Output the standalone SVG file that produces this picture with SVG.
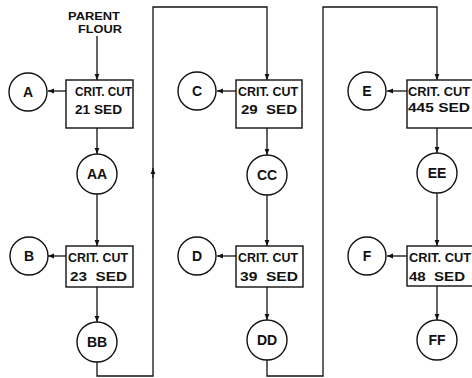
<svg xmlns="http://www.w3.org/2000/svg" width="472" height="378" viewBox="0 0 472 378">
<style>
.n{fill:#fff;stroke:#111;stroke-width:1.4}
.c{fill:none;stroke:#111;stroke-width:1.3}
text{font-family:"Liberation Sans",Arial,sans-serif;font-weight:bold;fill:#111;white-space:pre}
.bt{font-size:13px}
.ct{font-size:14px;text-anchor:middle}
.pt{font-size:11.5px}
</style>
<defs>
<marker id="ah" viewBox="0 0 10 10" refX="10" refY="5" markerWidth="6" markerHeight="6" markerUnits="userSpaceOnUse" orient="auto">
<path d="M0,1 L10,5 L0,9 z" fill="#111"/>
</marker>
</defs>
<rect width="472" height="378" fill="#fff"/>
<g id="connectors">
<path class="c" d="M97,36 V80" marker-end="url(#ah)"/>
<path class="c" d="M66,91 H48" marker-end="url(#ah)"/>
<path class="c" d="M97,128 V154" marker-end="url(#ah)"/>
<path class="c" d="M97,194 V246" marker-end="url(#ah)"/>
<path class="c" d="M66,256 H48" marker-end="url(#ah)"/>
<path class="c" d="M97,287 V322" marker-end="url(#ah)"/>
<path class="c" d="M97,362 V376 H153 V7 H267 V80" marker-end="url(#ah)"/>
<path class="c" d="M153,178 V168" marker-end="url(#ah)"/>
<path class="c" d="M236,91 H217" marker-end="url(#ah)"/>
<path class="c" d="M267,128 V155" marker-end="url(#ah)"/>
<path class="c" d="M267,195 V246" marker-end="url(#ah)"/>
<path class="c" d="M236,256 H217" marker-end="url(#ah)"/>
<path class="c" d="M267,287 V320" marker-end="url(#ah)"/>
<path class="c" d="M267,360 V376 H323 V7 H437 V80" marker-end="url(#ah)"/>
<path class="c" d="M407,91 H387" marker-end="url(#ah)"/>
<path class="c" d="M437,128 V153" marker-end="url(#ah)"/>
<path class="c" d="M437,193 V246" marker-end="url(#ah)"/>
<path class="c" d="M407,256 H387" marker-end="url(#ah)"/>
<path class="c" d="M437,286 V320" marker-end="url(#ah)"/>
</g>
<g id="parent">
<text class="pt" x="68" y="20" textLength="52" lengthAdjust="spacingAndGlyphs">PARENT</text>
<text class="pt" x="78" y="33" textLength="44" lengthAdjust="spacingAndGlyphs">FLOUR</text>
</g>
<g id="box1"><rect class="n" x="66" y="80" width="67" height="48"/>
<text class="bt" x="75" y="96" textLength="57" lengthAdjust="spacingAndGlyphs">CRIT. CUT</text>
<text class="bt" x="75" y="114" textLength="47" lengthAdjust="spacingAndGlyphs">21 SED</text></g>
<g id="A"><circle class="n" cx="28" cy="92" r="19"/><text class="ct" x="28" y="97">A</text></g>
<g id="AA"><circle class="n" cx="97" cy="174" r="20"/><text class="ct" x="97" y="179">AA</text></g>
<g id="box2"><rect class="n" x="66" y="246" width="67" height="41"/>
<text class="bt" x="68" y="262" textLength="60" lengthAdjust="spacingAndGlyphs">CRIT. CUT</text>
<text class="bt" x="70" y="281" textLength="57" lengthAdjust="spacingAndGlyphs">23  SED</text></g>
<g id="B"><circle class="n" cx="29" cy="256" r="19"/><text class="ct" x="29" y="261">B</text></g>
<g id="BB"><circle class="n" cx="97" cy="342" r="20"/><text class="ct" x="97" y="347">BB</text></g>
<g id="box3"><rect class="n" x="236" y="80" width="66" height="48"/>
<text class="bt" x="238" y="96" textLength="60" lengthAdjust="spacingAndGlyphs">CRIT. CUT</text>
<text class="bt" x="241" y="114" textLength="56" lengthAdjust="spacingAndGlyphs">29  SED</text></g>
<g id="C"><circle class="n" cx="197" cy="91" r="19"/><text class="ct" x="197" y="96">C</text></g>
<g id="CC"><circle class="n" cx="267" cy="175" r="20"/><text class="ct" x="267" y="180">CC</text></g>
<g id="box4"><rect class="n" x="236" y="246" width="67" height="41"/>
<text class="bt" x="238" y="262" textLength="60" lengthAdjust="spacingAndGlyphs">CRIT. CUT</text>
<text class="bt" x="240" y="281" textLength="58" lengthAdjust="spacingAndGlyphs">39  SED</text></g>
<g id="D"><circle class="n" cx="197" cy="256" r="19"/><text class="ct" x="197" y="261">D</text></g>
<g id="DD"><circle class="n" cx="267" cy="340" r="20"/><text class="ct" x="267" y="345">DD</text></g>
<g id="box5"><rect class="n" x="407" y="80" width="70" height="48"/>
<text class="bt" x="408" y="96" textLength="62" lengthAdjust="spacingAndGlyphs">CRIT. CUT</text>
<text class="bt" x="408" y="112" textLength="62" lengthAdjust="spacingAndGlyphs">445 SED</text></g>
<g id="E"><circle class="n" cx="367" cy="91" r="19"/><text class="ct" x="367" y="96">E</text></g>
<g id="EE"><circle class="n" cx="437" cy="173" r="20"/><text class="ct" x="437" y="178">EE</text></g>
<g id="box6"><rect class="n" x="407" y="246" width="70" height="40"/>
<text class="bt" x="409" y="262" textLength="62" lengthAdjust="spacingAndGlyphs">CRIT. CUT</text>
<text class="bt" x="409" y="281" textLength="56" lengthAdjust="spacingAndGlyphs">48  SED</text></g>
<g id="F"><circle class="n" cx="367" cy="256" r="19"/><text class="ct" x="367" y="261">F</text></g>
<g id="FF"><circle class="n" cx="437" cy="340" r="20"/><text class="ct" x="437" y="345">FF</text></g>
</svg>
